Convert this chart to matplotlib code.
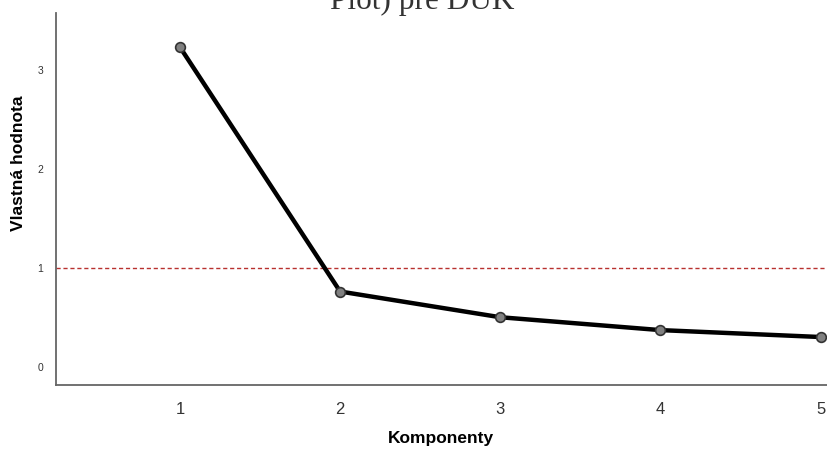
import matplotlib
matplotlib.use("Agg")
import matplotlib.pyplot as plt

# eigenvalues per component
komponenty = [1, 2, 3, 4, 5]
vlastne_hodnoty = [3.23, 0.76, 0.50, 0.37, 0.30]
kaiser_limit = 1.0
y_ticks = [0, 1, 2, 3]


def main():
    plt.rcParams['font.family'] = ['Liberation Sans', 'DejaVu Sans']
    fig = plt.figure(figsize=(8.27, 4.49), dpi=100)
    ax = fig.add_axes([0.0673, 0.1425, 0.9327, 0.8275])

    ax.axhline(kaiser_limit, color='#b8312f', lw=1.0, ls=(0, (3, 2)), zorder=1)
    ax.plot(komponenty, vlastne_hodnoty, color='black', lw=3.2,
            marker='o', markersize=7, markerfacecolor='#808080',
            markeredgecolor='#333333', markeredgewidth=1.2,
            solid_capstyle='round', zorder=3, clip_on=False)

    ax.set_xlim(0.224, 5.04)
    ax.set_ylim(-0.185, 3.57)
    ax.set_xticks(komponenty)
    ax.set_yticks(y_ticks)
    ax.tick_params(axis='x', length=0, pad=12, labelsize=12, labelcolor='#333333')
    ax.tick_params(axis='y', length=0, pad=9, labelsize=7.5, labelcolor='#333333')

    for side in ('top', 'right'):
        ax.spines[side].set_visible(False)
    for side in ('left', 'bottom'):
        ax.spines[side].set_color('#666666')
        ax.spines[side].set_linewidth(1.3)

    ax.set_xlabel('Komponenty', fontsize=12.5, fontweight='bold', labelpad=10)
    ax.set_ylabel('Vlastná hodnota', fontsize=12.5, fontweight='bold')
    ax.yaxis.set_label_coords(-0.038, 0.597)

    fig.text(0.510, 1 - 9 / 449, 'Plot) pre DUK', ha='center', va='baseline',
             fontsize=22.5, family=['Liberation Serif', 'DejaVu Serif'],
             color='#333333')

    fig.savefig('out.png', dpi=100)


if __name__ == "__main__":
    main()
